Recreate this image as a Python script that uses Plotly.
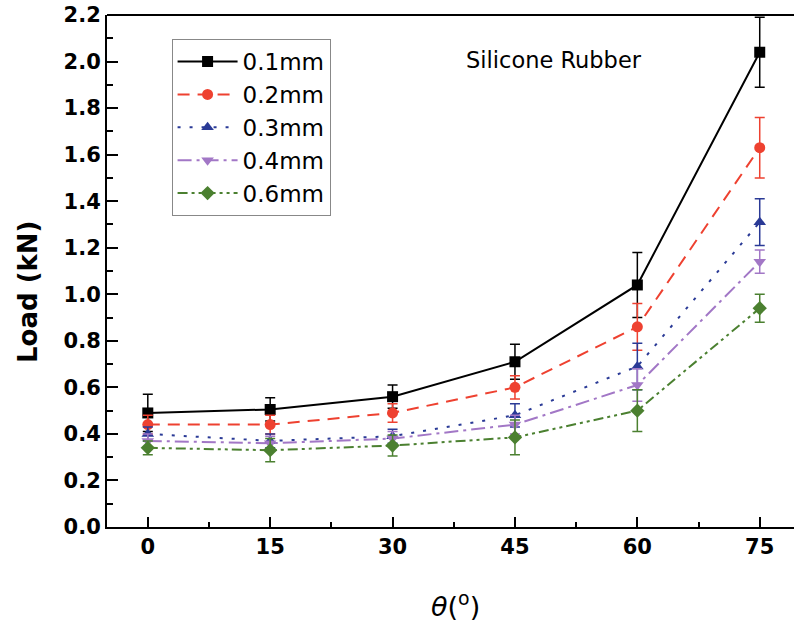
import plotly.graph_objects as go

theta = [0, 15, 30, 45, 60, 75]
names = ["0.1mm", "0.2mm", "0.3mm", "0.4mm", "0.6mm"]
load_01 = [0.49, 0.505, 0.56, 0.71, 1.04, 2.04]
load_02 = [0.44, 0.44, 0.49, 0.60, 0.86, 1.63]
load_03 = [0.40, 0.37, 0.39, 0.48, 0.69, 1.31]
load_04 = [0.37, 0.36, 0.38, 0.44, 0.61, 1.14]
load_06 = [0.34, 0.33, 0.35, 0.385, 0.50, 0.94]
err_01 = [0.08, 0.05, 0.05, 0.075, 0.14, 0.15]
err_02 = [0.04, 0.04, 0.04, 0.05, 0.10, 0.13]
err_03 = [0.03, 0.03, 0.03, 0.05, 0.10, 0.10]
err_04 = [0.03, 0.03, 0.03, 0.04, 0.07, 0.05]
err_06 = [0.03, 0.05, 0.045, 0.075, 0.09, 0.06]

series = [load_01, load_02, load_03, load_04, load_06]
errors = [err_01, err_02, err_03, err_04, err_06]
colors = ["#000000", "#EE4130", "#2A3A96", "#A277C6", "#4B8030"]
dashes = ["solid", "12px,8px", "3px,9px", "14px,5px,3px,5px", "10px,4px,3px,4px,3px,4px"]
symbols = ["square", "circle", "triangle-up", "triangle-down", "diamond"]

FONT = "DejaVu Sans, Arial, sans-serif"

fig = go.Figure()
for nm, ys, es, c, d, s in zip(names, series, errors, colors, dashes, symbols):
    fig.add_trace(go.Scatter(
        x=theta, y=ys, name=nm, mode="lines+markers",
        line=dict(color=c, width=2, dash=d),
        marker=dict(symbol=s, size=11, color=c),
        error_y=dict(type="data", array=es, visible=True, color=c, thickness=1.5, width=5),
    ))

fig.update_layout(
    width=794, height=630,
    margin=dict(l=107, r=0, t=15, b=103),
    paper_bgcolor="white", plot_bgcolor="white",
    font=dict(family=FONT, color="black"),
    showlegend=True,
    legend=dict(
        x=0.094, y=0.953, xanchor="left", yanchor="top",
        bgcolor="white", bordercolor="#888888", borderwidth=1,
        font=dict(size=23, family=FONT, color="black"),
        itemwidth=60,
    ),
    xaxis=dict(
        range=[-5, 79.2], tickvals=theta, ticktext=[str(t) for t in theta],
        ticks="inside", ticklen=10, tickwidth=2, tickcolor="black",
        minor=dict(dtick=7.5, tick0=7.5, ticks="inside", ticklen=5, tickwidth=2, tickcolor="black"),
        showline=True, linewidth=2, linecolor="black", showgrid=False, zeroline=False,
        tickfont=dict(size=21, family=FONT, weight="bold"),
    ),
    yaxis=dict(
        range=[0, 2.2], dtick=0.2, tickformat=".1f",
        ticks="inside", ticklen=11, tickwidth=2, tickcolor="black",
        minor=dict(dtick=0.1, ticks="inside", ticklen=6, tickwidth=2, tickcolor="black"),
        showline=True, linewidth=2, linecolor="black", showgrid=False, zeroline=False,
        tickfont=dict(size=21, family=FONT, weight="bold"),
    ),
)
fig.add_shape(type="line", xref="paper", yref="paper", x0=0, x1=1, y0=1, y1=1,
              line=dict(color="black", width=2))
fig.add_annotation(text="Silicone Rubber", xref="paper", yref="paper",
                   x=0.52, y=0.912, xanchor="left", yanchor="middle", showarrow=False,
                   font=dict(size=22.5, family=FONT, color="black"))
fig.add_annotation(text="<b>Load (kN)</b>", xref="paper", yref="paper",
                   x=-0.115, y=0.459, xanchor="center", yanchor="middle", textangle=-90,
                   showarrow=False, font=dict(size=26, family=FONT, color="black"))
fig.add_annotation(text="<i>θ</i>(<sup>o</sup>)", xref="paper", yref="paper",
                   x=0.5066, y=-0.152, xanchor="center", yanchor="middle",
                   showarrow=False, font=dict(size=27, family=FONT, color="black"))

fig.write_html("out.html")
